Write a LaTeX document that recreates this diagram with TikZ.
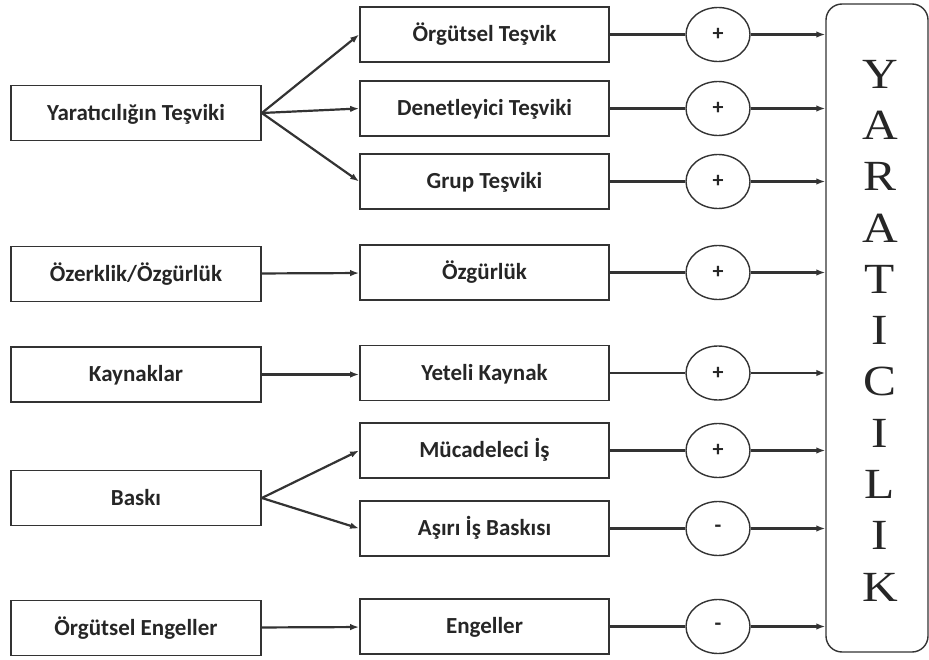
\documentclass[tikz,border=0pt]{standalone}
\usepackage{fontspec}
\setmainfont{Carlito}
\newfontfamily\bigserif{Liberation Serif}
\usetikzlibrary{arrows.meta,shapes.geometric}
\begin{document}
\begin{tikzpicture}[x=1pt,y=-1pt,
  box/.style={draw=black!80, line width=1.7pt, minimum width=250pt, minimum height=55pt, inner sep=0pt, text height=19pt, text depth=4.2pt, font=\fontsize{23}{25}\selectfont\bfseries, text=black!85},
  sign/.style={draw=black!80, line width=1.4pt, ellipse, minimum width=64pt, minimum height=54pt, inner sep=0pt, font=\fontsize{22}{24}\selectfont\bfseries, text=black!85},
  con/.style={draw=black!80, line width=2.2pt},
  arr/.style={con, -{Latex[length=9pt,width=6.5pt]}}]
\useasboundingbox (0,0) rectangle (929,660);
% left boxes
\node[box] (l1) at (136,113) {Yaratıcılığın Teşviki};
\node[box] (l2) at (136,274) {Özerklik/Özgürlük};
\node[box] (l3) at (136,374.5) {Kaynaklar};
\node[box] (l4) at (136,498) {Baskı};
\node[box] (l5) at (136,628) {Örgütsel Engeller};
% middle boxes
\node[box, minimum width=249pt] (m1) at (484.5,34.5) {Örgütsel Teşvik};
\node[box, minimum width=249pt] (m2) at (484.5,108.5) {Denetleyici Teşviki};
\node[box, minimum width=249pt] (m3) at (484.5,181.5) {Grup Teşviki};
\node[box, minimum width=249pt] (m4) at (484.5,272.5) {Özgürlük};
\node[box, minimum width=249pt] (m5) at (484.5,373) {Yeteli Kaynak};
\node[box, minimum width=249pt] (m6) at (484.5,450.5) {Mücadeleci İş};
\node[box, minimum width=249pt] (m7) at (484.5,528.5) {Aşırı İş Baskısı};
\node[box, minimum width=249pt] (m8) at (484.5,626.5) {Engeller};
% signs
\node[sign] (e1) at (718,34.5) {+};
\node[sign] (e2) at (718,108.5) {+};
\node[sign] (e3) at (718,181.5) {+};
\node[sign] (e4) at (718,272.5) {+};
\node[sign] (e5) at (718,373) {+};
\node[sign] (e6) at (718,450.5) {+};
\node[sign] (e7) at (718,528.5) {-};
\node[sign] (e8) at (718,626.5) {-};
% right box
\node[draw=black!80, line width=1.4pt, rounded corners=16pt, minimum width=102pt, minimum height=648pt, inner sep=0pt] (r) at (877,328) {};
\foreach \ch [count=\i from 0] in {Y,A,R,A,T,I,C,I,L,I,K}
  \node[font=\bigserif\fontsize{43}{43}\selectfont, text=black!85, inner sep=0pt, xscale=1.15] (t\i) at (880,74+51.3*\i) {\ch};
% connectors left -> middle
\draw[arr] (l1.east) -- (m1.west);
\draw[arr] (l1.east) -- (m2.west);
\draw[arr] (l1.east) -- (m3.west);
\draw[arr] (l2) -- (m4);
\draw[arr] (l3.east) -- (l3.east -| m5.west);
\draw[arr] (l4.east) -- (m6.west);
\draw[arr] (l4.east) -- (m7.west);
\draw[arr] (l5) -- (m8);
% middle -> signs -> right
\foreach \i in {1,...,8} {
  \draw[con] (m\i) -- (e\i);
  \draw[arr] (e\i.east) -- (e\i.east -| r.west);
}
\end{tikzpicture}
\end{document}
